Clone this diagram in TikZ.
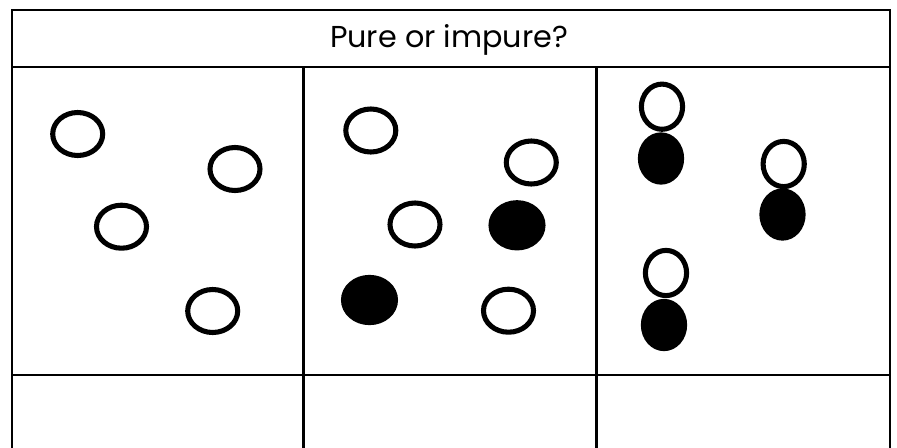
\documentclass[tikz,border=0pt]{standalone}
\usepackage{fontspec}
\setmainfont{Poppins}
\usepackage{tikz}
\usetikzlibrary{shapes.geometric, positioning}

\begin{document}
\begin{tikzpicture}[
  x=0.025cm, y=-0.025cm,
  rule/.style={line width=2pt},
  open/.style={ellipse, draw, line width=3.6pt, minimum width=1.25cm, minimum height=1.075cm, inner sep=0pt},
  solid/.style={ellipse, draw, fill=black, line width=3.6pt, minimum width=1.3cm, minimum height=1.13cm, inner sep=0pt},
  tallopen/.style={open, minimum width=1.03cm, minimum height=1.13cm},
  tallsolid/.style={solid, minimum width=1.03cm, minimum height=1.18cm}
]
  \useasboundingbox (0,0) rectangle (897,448);

  % table
  \draw[rule] (12,450) -- (12,10) -- (890,10) -- (890,450);
  \draw[rule] (12,67) -- (890,67);
  \draw[rule] (12,375) -- (890,375);
  \draw[rule] (303.5,67) -- (303.5,450);
  \draw[rule] (596.5,67) -- (596.5,450);
  \node[font=\fontsize{21.5}{24}\selectfont] (title) at (449,40) {Pure or impure?};

  % pure element
  \node[open] (a1) at (77.7,134) {};
  \node[open] (a2) at (235,169) {};
  \node[open] (a3) at (121.5,226.7) {};
  \node[open] (a4) at (212.7,311) {};

  % mixture
  \node[open]  (b1) at (370.8,130.5) {};
  \node[open]  (b2) at (531.3,162.5) {};
  \node[open]  (b3) at (415,224.5) {};
  \node[solid] (b4) at (517,225.3) {};
  \node[solid] (b5) at (369.5,300) {};
  \node[open]  (b6) at (508.5,310.7) {};

  % compound
  \node[tallopen]  (c1) at (662,106.7) {};
  \node[tallsolid] (c2) at (661,158.5) {};
  \node[tallopen]  (c3) at (783.7,164) {};
  \node[tallsolid] (c4) at (782.5,214.5) {};
  \node[tallopen]  (c5) at (666,273) {};
  \node[tallsolid] (c6) at (664,325) {};
\end{tikzpicture}
\end{document}
